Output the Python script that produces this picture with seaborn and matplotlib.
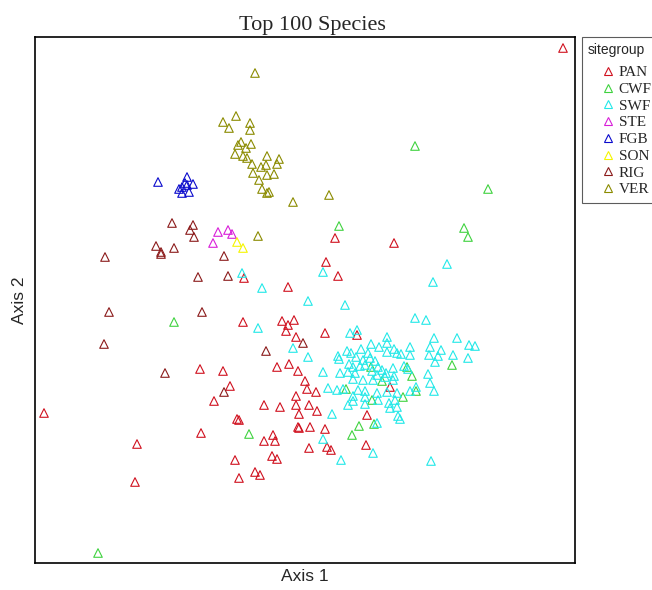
import matplotlib
matplotlib.use("Agg")
import matplotlib.pyplot as plt
from matplotlib.lines import Line2D
import seaborn as sns
import pandas as pd

# ordination scores (arbitrary units)
groups = ["PAN", "CWF", "SWF", "STE", "FGB", "SON", "RIG", "VER"]
colors = ["#D0101E", "#3FD23F", "#22E8E8", "#D81ED8", "#0A0ACC", "#F5F500", "#8B1A1A", "#8B8B00"]

pan_x = [258, 30, 89, 21, 33, -17, -61, -62, -23, -11, -17, -19, -9, -28, -16, -7, 0, 2,
         -75, -91, -261, -41, -25, -9, -9, -6, 4, -68, -66, -7, -6, 5, -105, -82, -104, -168,
         -32, -41, -30, 4, -70, -33, -28, -66, -50, -45, -170, 20, 52, 11, 12, 20, 22, 26,
         62, 61, 85]
pan_y = [252, 62, 57, 38, 24, 13, 22, -22, -21, -20, -25, -31, -37, -67, -64, -71, -81, -89,
         -86, -101, -113, -105, -107, -96, -105, -114, -105, -119, -120, -127, -128, -127, -69,
         -71, -133, -144, -135, -141, -141, -148, -160, -156, -159, -178, -172, -175, -182,
         -33, -35, -92, -111, -129, -147, -150, -115, -145, -87]

cwf_x = [110, 183, 34, 159, 163, -131, -56, -207, 147, 107, 77, 41, 111, 98, 67, 54, 47, 69,
         66, 102]
cwf_y = [154, 111, 74, 72, 63, -22, -134, -253, -65, -76, -81, -89, -91, -97, -100, -126,
         -135, -124, -67, -67]

swf_x = [-63, -43, 142, 128, 18, 3, 40, -47, -12, 3, 110, 121, 45, 52, 82, 129, 152, 164,
         170, 66, 74, 82, 89, 105, 125, 136, 56, 42, 46, 33, 63, 82, 92, 96, 105, 124, 133,
         148, 163, 34, 51, 58, 65, 70, 130, 44, 48, 55, 60, 73, 77, 88, 99, 103, 18, 35, 43,
         50, 67, 72, 81, 89, 123, 48, 58, 68, 80, 88, 125, 23, 32, 38, 53, 60, 72, 82, 92,
         105, 111, 129, 48, 48, 60, 73, 84, 90, 43, 60, 85, 92, 27, 93, 95, 72, 18, 68, 36,
         126]
swf_y = [27, 12, 36, 18, 28, -1, -5, -28, -48, -57, -18, -20, -33, -30, -37, -38, -38, -45,
         -46, -44, -47, -43, -49, -47, -47, -50, -49, -51, -53, -56, -53, -52, -53, -54, -55,
         -55, -56, -55, -58, -59, -57, -60, -58, -61, -62, -64, -67, -66, -65, -67, -70, -68,
         -66, -69, -72, -73, -72, -73, -71, -75, -73, -76, -74, -79, -80, -80, -77, -80, -83,
         -88, -90, -89, -90, -91, -93, -92, -93, -91, -87, -91, -96, -101, -97, -100, -103,
         -100, -105, -104, -108, -107, -114, -116, -119, -123, -139, -153, -160, -161]

ste_x = [-87, -77, -73, -92]
ste_y = [68, 70, 66, 57]

fgb_x = [-147, -118, -120, -112, -126, -116, -123, -118, -123]
fgb_y = [118, 123, 117, 116, 111, 108, 107, 115, 113]

son_x = [-68, -62]
son_y = [58, 52]

rig_x = [-133, -112, -115, -111, -149, -144, -144, -131, -200, -81, -107, -77, -196, -103,
         -201, -140, -39, -81, -2]
rig_y = [77, 75, 70, 63, 54, 46, 48, 52, 43, 44, 23, 24, -12, -12, -44, -73, -51, -92, -43]

ver_x = [-50, -69, -82, -76, -55, -55, -64, -67, -54, -59, -70, -62, -58, -38, -26, -53,
         -44, -39, -28, -52, -38, -31, -46, -43, -38, -36, -12, -47, 24]
ver_y = [227, 184, 178, 172, 177, 170, 158, 155, 156, 152, 146, 144, 142, 144, 141, 136,
         133, 135, 136, 127, 125, 126, 120, 111, 107, 108, 98, 64, 105]

xs = [pan_x, cwf_x, swf_x, ste_x, fgb_x, son_x, rig_x, ver_x]
ys = [pan_y, cwf_y, swf_y, ste_y, fgb_y, son_y, rig_y, ver_y]

df = pd.concat(
    [pd.DataFrame({"Axis 1": x, "Axis 2": y, "sitegroup": g}) for g, x, y in zip(groups, xs, ys)],
    ignore_index=True,
)

sns.set_style("white")
plt.rcParams["font.family"] = ["Liberation Sans", "DejaVu Sans"]

fig = plt.figure(figsize=(6.52, 5.90), dpi=100)
ax = fig.add_axes([35 / 652, 27 / 590, 540 / 652, 526 / 590])

palette = dict(zip(groups, colors))
sns.scatterplot(data=df, x="Axis 1", y="Axis 2", hue="sitegroup", hue_order=groups,
                palette=palette, marker="^", s=38, linewidth=0.8, legend=False, ax=ax)

# hollow triangles, edge in the group colour
pts = ax.collections[0]
pts.set_edgecolors(pts.get_facecolors())
pts.set_facecolors("none")

ax.set_xlim(-270, 270)
ax.set_ylim(-263, 263)
ax.set_xticks([])
ax.set_yticks([])
for sp in ax.spines.values():
    sp.set_visible(True)
    sp.set_color("black")
    sp.set_linewidth(1.2)

ax.set_title("Top 100 Species", family="Liberation Serif", fontsize=16, pad=5, x=0.513)
ax.set_xlabel("Axis 1", fontsize=12.5, labelpad=4)
ax.set_ylabel("Axis 2", fontsize=12.5, labelpad=6)

handles = [Line2D([], [], ls="", marker="^", markersize=6, mfc="none", mec=c, mew=0.8)
           for c in colors]
leg = fig.legend(handles, groups, title="sitegroup", loc="upper left",
                 bbox_to_anchor=(582 / 652, 1 - 37 / 590), bbox_transform=fig.transFigure,
                 borderaxespad=0, borderpad=0.4, handlelength=2.6, handletextpad=-0.6,
                 labelspacing=0.2, fancybox=False, alignment="left",
                 prop={"family": "Liberation Serif", "size": 11},
                 title_fontproperties={"family": "Liberation Sans", "size": 10})
leg._legend_box.sep = 6
leg.get_frame().set_edgecolor("#333333")
leg.get_frame().set_linewidth(0.8)

fig.savefig("out.png", dpi=100)
